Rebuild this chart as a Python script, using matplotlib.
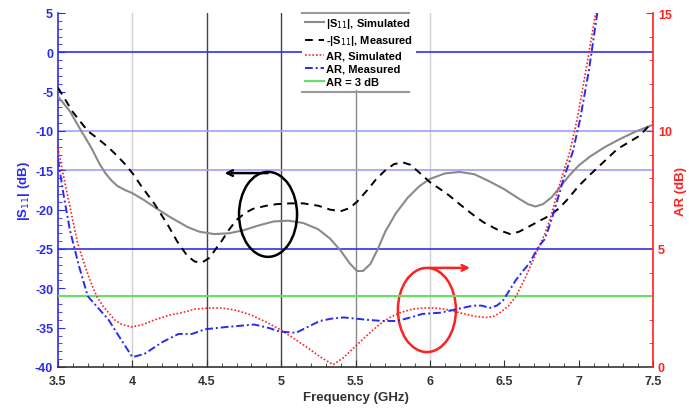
import matplotlib
matplotlib.use("Agg")
import matplotlib.pyplot as plt
from matplotlib.patches import Ellipse
from matplotlib.lines import Line2D

plt.rcParams['font.family'] = ['Liberation Sans', 'DejaVu Sans']
plt.rcParams['axes.unicode_minus'] = False

# ---- data ----
f_s11_sim = [3.5, 3.58, 3.65, 3.72, 3.78, 3.82, 3.86, 3.9, 3.95, 4.0, 4.08, 4.15, 4.25, 4.37, 4.45,
             4.55, 4.65, 4.75, 4.85, 4.95, 5.05, 5.15, 5.25, 5.33, 5.4, 5.46, 5.51, 5.55, 5.6, 5.65,
             5.7, 5.77, 5.85, 5.93, 6.0, 6.1, 6.2, 6.3, 6.4, 6.5, 6.59, 6.66, 6.71, 6.76, 6.82, 6.88,
             6.94, 7.0, 7.08, 7.18, 7.28, 7.38, 7.5]
s11_sim = [-5.6, -7.5, -9.8, -12.0, -14.2, -15.4, -16.3, -17.0, -17.5, -17.9, -18.8, -19.7, -20.9,
           -22.2, -22.8, -23.1, -23.0, -22.6, -22.0, -21.5, -21.4, -21.7, -22.5, -23.7, -25.2, -26.8,
           -27.8, -27.8, -26.9, -25.0, -22.8, -20.5, -18.5, -17.0, -16.1, -15.4, -15.2, -15.5, -16.4,
           -17.4, -18.5, -19.3, -19.6, -19.3, -18.4, -17.0, -15.6, -14.4, -13.2, -12.0, -11.0, -10.1,
           -9.2]

f_s11_meas = [3.5, 3.6, 3.7, 3.77, 3.84, 3.9, 3.96, 4.01, 4.06, 4.15, 4.24, 4.3, 4.37, 4.42, 4.47,
              4.52, 4.56, 4.6, 4.64, 4.7, 4.76, 4.81, 4.9, 4.97, 5.06, 5.15, 5.25, 5.33, 5.4, 5.46,
              5.51, 5.58, 5.64, 5.7, 5.76, 5.82, 5.87, 5.93, 6.0, 6.07, 6.13, 6.2, 6.28, 6.36, 6.45,
              6.54, 6.6, 6.67, 6.74, 6.81, 6.87, 6.92, 7.0, 7.08, 7.17, 7.26, 7.34, 7.41, 7.46, 7.5]
s11_meas = [-4.5, -7.6, -10.0, -11.0, -12.1, -13.2, -14.4, -15.6, -17.0, -19.3, -22.0, -24.0, -25.9,
            -26.6, -26.7, -26.1, -25.0, -24.0, -22.8, -21.3, -20.4, -19.9, -19.5, -19.3, -19.2, -19.2,
            -19.5, -20.0, -20.2, -19.8, -19.0, -17.5, -16.1, -15.0, -14.2, -14.0, -14.3, -15.3, -16.5,
            -17.4, -18.2, -19.3, -20.5, -21.6, -22.5, -23.1, -22.8, -22.1, -21.4, -20.7, -19.8, -18.8,
            -17.0, -15.5, -13.9, -12.3, -11.4, -10.6, -9.6, -8.8]

f_ar_sim = [3.5, 3.53, 3.56, 3.6, 3.63, 3.68, 3.72, 3.76, 3.8, 3.84, 3.88, 3.93, 4.0, 4.07, 4.15,
            4.25, 4.33, 4.42, 4.51, 4.6, 4.7, 4.8, 4.9, 4.99, 5.1, 5.19, 5.27, 5.35, 5.42, 5.48,
            5.57, 5.66, 5.73, 5.8, 5.88, 5.95, 6.03, 6.1, 6.2, 6.3, 6.38, 6.43, 6.47, 6.53, 6.58,
            6.65, 6.72, 6.77, 6.81, 6.87, 6.94, 6.99, 7.05, 7.12]
ar_sim = [9.3, 8.3, 7.4, 6.2, 5.3, 4.3, 3.6, 3.0, 2.6, 2.3, 2.0, 1.8, 1.7, 1.8, 2.0,
          2.2, 2.3, 2.45, 2.5, 2.5, 2.4, 2.2, 1.9, 1.6, 1.15, 0.76, 0.4, 0.1, 0.4, 0.76,
          1.3, 1.8, 2.1, 2.3, 2.45, 2.5, 2.5, 2.45, 2.3, 2.15, 2.1, 2.15, 2.3, 2.6, 3.0,
          3.9, 4.9, 5.6, 6.3, 7.7, 9.1, 10.5, 12.6, 15.2]

f_ar_meas = [3.5, 3.54, 3.58, 3.64, 3.7, 3.77, 3.84, 3.92, 4.0, 4.08, 4.14, 4.2, 4.31, 4.4, 4.49,
             4.64, 4.82, 4.92, 4.99, 5.1, 5.18, 5.26, 5.34, 5.42, 5.5, 5.58, 5.68, 5.78, 5.87, 5.95,
             6.07, 6.18, 6.29, 6.35, 6.4, 6.45, 6.49, 6.53, 6.58, 6.63, 6.67, 6.73, 6.77, 6.8, 6.84,
             6.9, 6.96, 7.01, 7.07, 7.13]
ar_meas = [8.8, 7.2, 5.8, 4.3, 3.0, 2.5, 2.0, 1.2, 0.42, 0.55, 0.8, 1.05, 1.4, 1.4, 1.6,
           1.7, 1.8, 1.65, 1.5, 1.45, 1.7, 1.95, 2.05, 2.1, 2.05, 2.0, 1.95, 1.95, 2.1, 2.25,
           2.3, 2.45, 2.6, 2.6, 2.5, 2.6, 2.8, 3.2, 3.7, 4.1, 4.4, 5.1, 5.4, 5.9, 6.7,
           8.0, 9.1, 10.5, 12.6, 15.2]

ar_limit = 3.0
x_ticks = [3.5, 4, 4.5, 5, 5.5, 6, 6.5, 7, 7.5]
x_ticklabels = ['3.5', '4', '4.5', '5', '5.5', '6', '6.5', '7', '7.5']
y_ticks = [5, 0, -5, -10, -15, -20, -25, -30, -35, -40]
ar_ticks = [0, 5, 10, 15]

# ---- figure ----
fig = plt.figure(figsize=(6.89, 4.10), dpi=100)
ax = fig.add_axes([58/689, 1-368/410, (653-58)/689, (368-14)/410])
ax2 = ax.twinx()

BLUE = '#2a2af0'
RED = '#ff2020'
DARK = '#333333'

# grid / reference lines
for xv, c, lw in [(4.0, '#d0d0d0', 1.0), (4.5, '#444444', 1.0), (5.0, '#444444', 1.0),
                  (5.5, '#888888', 1.0), (6.0, '#d0d0d0', 1.0)]:
    ax.axvline(xv, color=c, lw=lw, zorder=1)
for yv, c in [(0, '#3030f0'), (-10, '#a0a0ff'), (-15, '#a0a0ff'), (-25, '#3030f0')]:
    ax.axhline(yv, color=c, lw=1.2, zorder=1)

ax.plot(f_s11_sim, s11_sim, color='#8a8a8a', lw=1.5, zorder=3)
ax.plot(f_s11_meas, s11_meas, color='black', lw=1.4, dashes=(4, 3), zorder=3)

ax2.axhline(ar_limit, color='#66e066', lw=1.5, zorder=2)
ax2.plot(f_ar_sim, ar_sim, color=RED, lw=1.2, dashes=(1, 1.2), zorder=3)
ax2.plot(f_ar_meas, ar_meas, color=BLUE, lw=1.4, dashes=(4, 1.5, 1, 1.5), zorder=3)

# annotation shapes
ax.add_patch(Ellipse((4.912, -20.6), 0.39, 10.8, fill=False, ec='black', lw=1.8, zorder=4))
ax.annotate('', xy=(4.62, -15.35), xytext=(4.91, -15.35),
            arrowprops=dict(arrowstyle='->', color='black', lw=1.8, shrinkA=0, shrinkB=0), zorder=4)
ax.add_patch(Ellipse((5.98, -32.75), 0.39, 10.7, fill=False, ec=RED, lw=1.8, zorder=4))
ax.annotate('', xy=(6.27, -27.4), xytext=(6.0, -27.4),
            arrowprops=dict(arrowstyle='->', color=RED, lw=1.8, shrinkA=0, shrinkB=0), zorder=4)

# axes
ax.set_xlim(3.5, 7.5)
ax.set_ylim(-40, 5)
ax2.set_ylim(0, 15)
ax.set_xticks(x_ticks)
ax.set_xticklabels(x_ticklabels)
ax.set_yticks(y_ticks)
ax2.set_yticks(ar_ticks)
ax.set_xticks([3.5 + 0.1*i for i in range(41)], minor=True)
ax.set_yticks(list(range(-40, 6)), minor=True)
ax2.set_yticks(list(range(0, 16)), minor=True)

for a in (ax, ax2):
    a.spines['top'].set_visible(False)
ax.spines['left'].set_color(BLUE)
ax.spines['bottom'].set_color(DARK)
ax.spines['right'].set_visible(False)
ax2.spines['left'].set_visible(False)
ax2.spines['bottom'].set_visible(False)
ax2.spines['right'].set_color(RED)
for s in ('left', 'bottom'):
    ax.spines[s].set_linewidth(1.2)
ax2.spines['right'].set_linewidth(1.2)

ax.tick_params(axis='x', which='both', direction='in', colors=DARK, labelsize=9, top=False, pad=6)
ax.tick_params(axis='x', which='major', length=5)
ax.tick_params(axis='x', which='minor', length=3)
ax.tick_params(axis='y', which='both', direction='in', colors=BLUE, labelsize=9)
ax.tick_params(axis='y', which='major', length=5)
ax.tick_params(axis='y', which='minor', length=3)
ax2.tick_params(axis='y', which='both', direction='in', colors=RED, labelsize=9)
ax2.tick_params(axis='y', which='major', length=5)
ax2.tick_params(axis='y', which='minor', length=3)
for lab in ax.get_xticklabels() + ax.get_yticklabels() + ax2.get_yticklabels():
    lab.set_fontweight('bold')

ax.set_xlabel('Frequency (GHz)', fontsize=9.5, fontweight='bold', color=DARK, labelpad=3)
ax.set_ylabel('|S$_{11}$| (dB)', fontsize=9.5, fontweight='bold', color=BLUE, labelpad=2)
ax2.set_ylabel('AR (dB)', fontsize=9.5, fontweight='bold', color=RED, labelpad=2)

# legend
handles = [Line2D([], [], color='#8a8a8a', lw=1.5),
           Line2D([], [], color='black', lw=1.4, dashes=(4, 3)),
           Line2D([], [], color=RED, lw=1.2, dashes=(1, 1.2)),
           Line2D([], [], color=BLUE, lw=1.4, dashes=(4, 1.5, 1, 1.5)),
           Line2D([], [], color='#66e066', lw=1.5)]
labels = ['|S$_{11}$|, Simulated', '-|S$_{11}$|, Measured', 'AR, Simulated', 'AR, Measured', 'AR = 3 dB']
leg = ax2.legend(handles, labels, loc='upper left', bbox_to_anchor=(0.41, 1.0),
                 frameon=True, fancybox=False, facecolor='white', edgecolor='none', framealpha=1,
                 prop={'size': 8, 'weight': 'bold'}, handlelength=1.7, handletextpad=0.15,
                 labelspacing=0.28, borderpad=0.3, borderaxespad=0)
leg.set_zorder(10)
ax2.plot([0.41, 0.59], [1.0, 1.0], transform=ax2.transAxes, color='#999999', lw=1.5, zorder=11, clip_on=False)
ax2.plot([0.41, 0.59], [0.777, 0.777], transform=ax2.transAxes, color='#999999', lw=1.5, zorder=11, clip_on=False)

fig.savefig('out.png', dpi=100)
